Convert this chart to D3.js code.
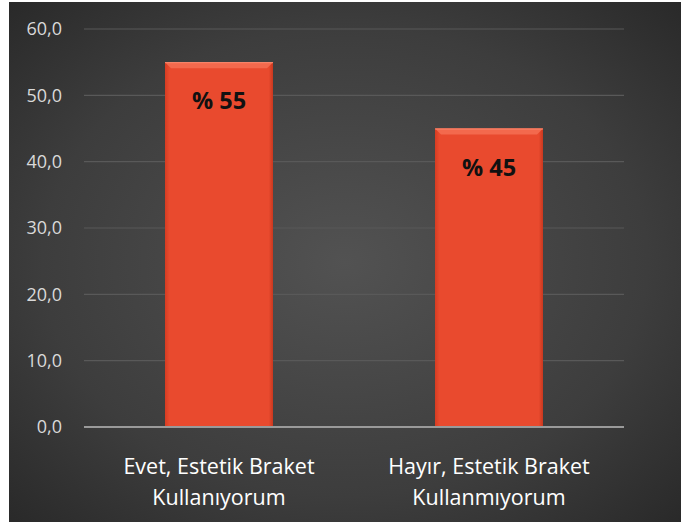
<!DOCTYPE html>
<html>
<head>
<meta charset="utf-8">
<script src="https://cdn.jsdelivr.net/npm/d3@7"></script>
<style>
  html, body { margin: 0; padding: 0; background: #ffffff; }
  svg { display: block; }
</style>
</head>
<body>
<svg id="chart" width="681" height="524"></svg>
<script>
// Category labels (two lines each), values and y-axis ticks
const categories = [
  ["Evet, Estetik Braket", "Kullanıyorum"],
  ["Hayır, Estetik Braket", "Kullanmıyorum"]
];
const values = [55, 45];
const valueLabels = ["% 55", "% 45"];
const yTicks = [0, 10, 20, 30, 40, 50, 60];

const svg = d3.select("#chart");
const W = 681, H = 524;

// Panel area
const panel = { x: 9, y: 2, w: W - 9, h: 520 };
const plot = { left: 84, right: 624, top: 29, bottom: 427 };

const defs = svg.append("defs");

const bg = defs.append("radialGradient")
  .attr("id", "bgGrad")
  .attr("cx", "50%").attr("cy", "50%").attr("r", "75%");
bg.append("stop").attr("offset", "0%").attr("stop-color", "#525252");
bg.append("stop").attr("offset", "60%").attr("stop-color", "#3d3d3d");
bg.append("stop").attr("offset", "100%").attr("stop-color", "#262626");

const barSide = defs.append("linearGradient")
  .attr("id", "barSide").attr("x1", "0%").attr("x2", "100%");
barSide.append("stop").attr("offset", "0%").attr("stop-color", "#d63c22");
barSide.append("stop").attr("offset", "4%").attr("stop-color", "#e94a2e");
barSide.append("stop").attr("offset", "96%").attr("stop-color", "#e94a2e");
barSide.append("stop").attr("offset", "100%").attr("stop-color", "#c9381f");

svg.append("rect")
  .attr("x", panel.x).attr("y", panel.y)
  .attr("width", panel.w).attr("height", panel.h)
  .attr("fill", "url(#bgGrad)");

const x = d3.scaleBand()
  .domain(d3.range(categories.length))
  .range([plot.left, plot.right])
  .paddingInner(0.6)
  .paddingOuter(0.3);

const y = d3.scaleLinear()
  .domain([0, 60])
  .range([plot.bottom, plot.top]);

// Gridlines
svg.append("g")
  .selectAll("line")
  .data(yTicks.filter(d => d > 0))
  .join("line")
  .attr("x1", plot.left).attr("x2", plot.right)
  .attr("y1", d => y(d)).attr("y2", d => y(d))
  .attr("stroke", "#595959").attr("stroke-width", 1.2);

// Y axis labels
const yAxis = d3.axisLeft(y)
  .tickValues(yTicks)
  .tickSize(0)
  .tickPadding(22)
  .tickFormat(d => d3.format(".1f")(d).replace(".", ","));

const yg = svg.append("g")
  .attr("transform", `translate(${plot.left},0)`)
  .call(yAxis);
yg.select(".domain").remove();
yg.selectAll("text")
  .attr("fill", "#d9d9d9")
  .style("font-family", "'Open Sans', sans-serif")
  .style("font-size", "18px");

// Bars
const bars = svg.append("g").selectAll("g")
  .data(values)
  .join("g");

bars.append("rect")
  .attr("x", (d, i) => x(i))
  .attr("y", d => y(d))
  .attr("width", x.bandwidth())
  .attr("height", d => y(0) - y(d))
  .attr("fill", "url(#barSide)");

// Bevelled top edge
bars.append("path")
  .attr("d", (d, i) => {
    const x0 = x(i), x1 = x(i) + x.bandwidth(), t = y(d), b = 6;
    return `M${x0},${t} L${x1},${t} L${x1 - b},${t + b} L${x0 + b},${t + b} Z`;
  })
  .attr("fill", "#f3694d");
bars.append("line")
  .attr("x1", (d, i) => x(i)).attr("x2", (d, i) => x(i) + x.bandwidth())
  .attr("y1", d => y(d) + 0.5).attr("y2", d => y(d) + 0.5)
  .attr("stroke", "#f88a70").attr("stroke-width", 1);

// Value labels
bars.append("text")
  .attr("x", (d, i) => x(i) + x.bandwidth() / 2)
  .attr("y", d => y(d) + 47)
  .attr("text-anchor", "middle")
  .attr("fill", "#111111")
  .style("font-family", "'Open Sans', sans-serif")
  .style("font-weight", "bold")
  .style("font-size", "23.5px")
  .text((d, i) => valueLabels[i]);

// Baseline
svg.append("line")
  .attr("x1", plot.left).attr("x2", plot.right)
  .attr("y1", y(0)).attr("y2", y(0))
  .attr("stroke", "#9a9a9a").attr("stroke-width", 2);

// Category labels
const cat = svg.append("g").selectAll("text")
  .data(categories)
  .join("text")
  .attr("text-anchor", "middle")
  .attr("fill", "#ffffff")
  .style("font-family", "'Open Sans', sans-serif")
  .style("font-size", "21.5px");
cat.each(function (lines, i) {
  const t = d3.select(this);
  lines.forEach((ln, k) => {
    t.append("tspan")
      .attr("x", x(i) + x.bandwidth() / 2)
      .attr("y", 474 + k * 31)
      .text(ln);
  });
});
</script>
</body>
</html>
